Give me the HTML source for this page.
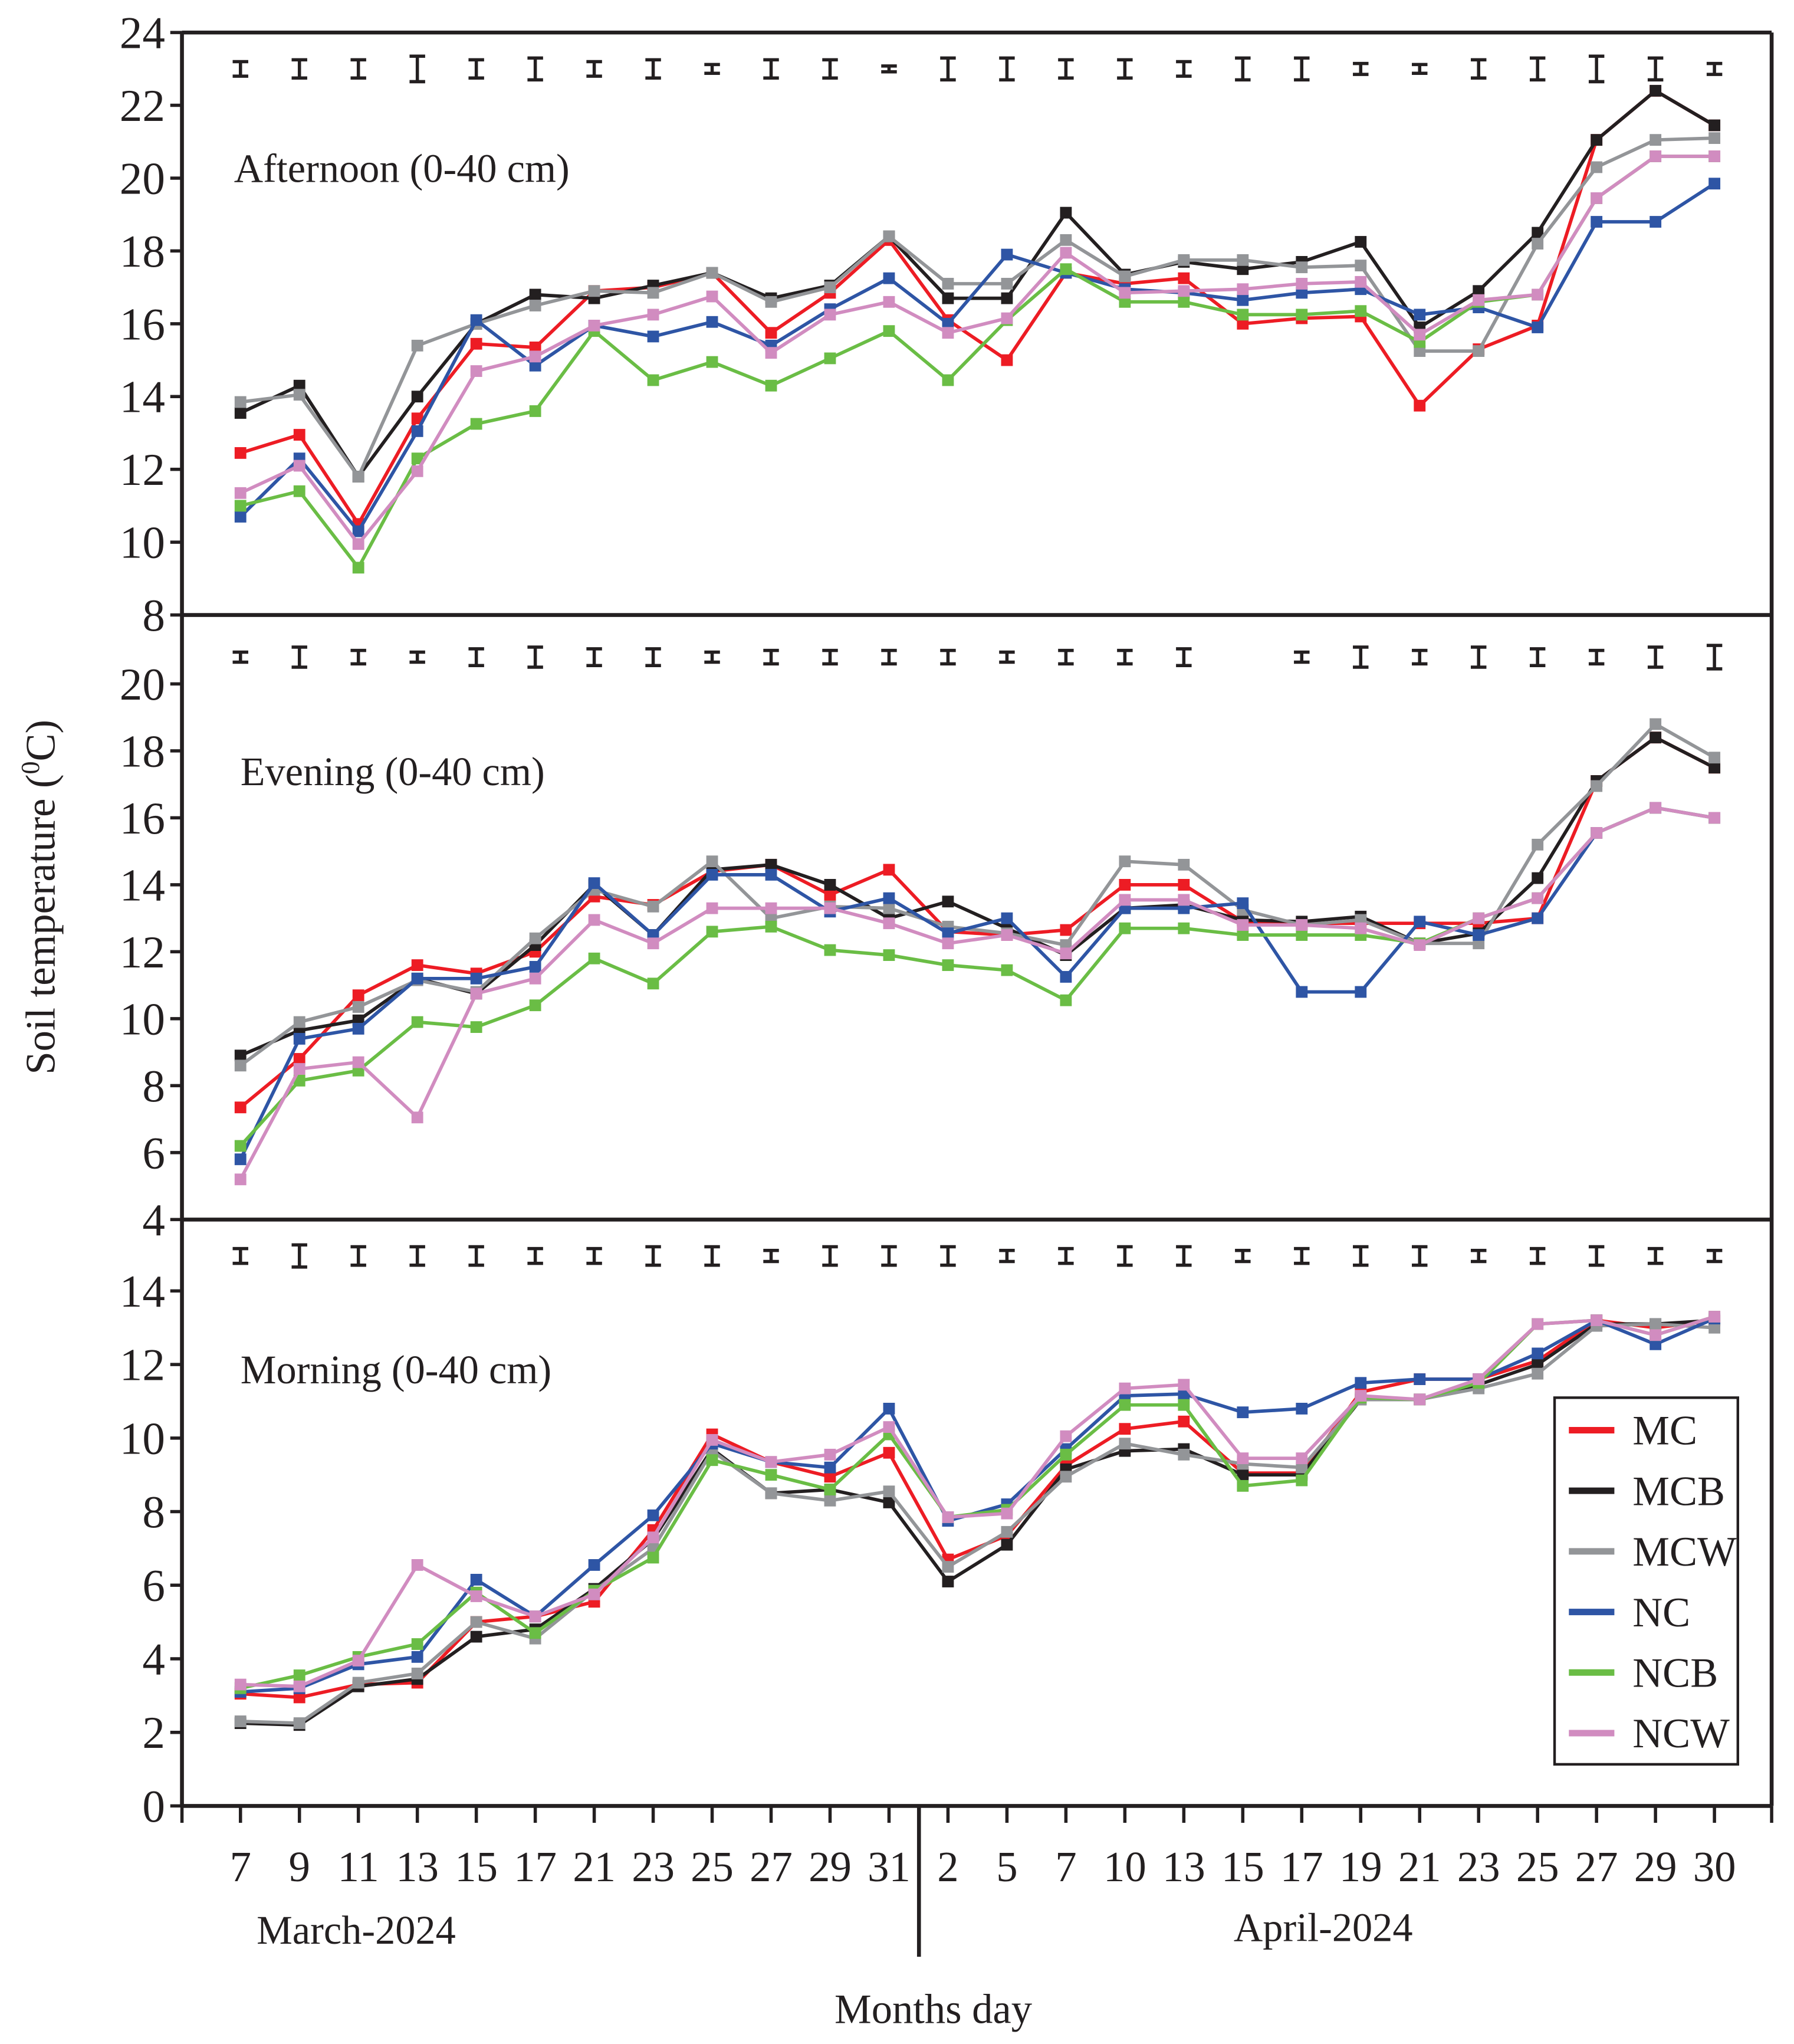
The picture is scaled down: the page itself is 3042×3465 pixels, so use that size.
<!DOCTYPE html>
<html><head><meta charset="utf-8"><style>
html,body{margin:0;padding:0;background:#fff}
svg{display:block}
text{font-family:"Liberation Serif","Times New Roman",serif;fill:#231f20}
</style></head><body>
<svg id="chart" width="3042" height="3465" viewBox="0 0 1380.2 1572.1" xmlns="http://www.w3.org/2000/svg">
<g id="frame"></g>
<g id="marks"></g>
<text x="180" y="140" font-size="31">Afternoon (0-40 cm)</text>
<text x="185" y="604" font-size="31">Evening (0-40 cm)</text>
<text x="185" y="1064" font-size="31">Morning (0-40 cm)</text>
<text transform="translate(42,690) rotate(-90)" text-anchor="middle" font-size="32">Soil temperature (<tspan font-size="20" dy="-12">0</tspan><tspan dy="12">C)</tspan></text>
<text x="274" y="1495" text-anchor="middle" font-size="31">March-2024</text>
<text x="1018" y="1493" text-anchor="middle" font-size="31">April-2024</text>
<text x="718" y="1556" text-anchor="middle" font-size="32">Months day</text>
<g id="legend"></g>
</svg>
<script>
const categories=["7","9","11","13","15","17","21","23","25","27","29","31","2","5","7","10","13","15","17","19","21","23","25","27","29","30"];
const seriesNames=["MC","MCB","MCW","NC","NCB","NCW"];
const seriesColors=["#ed1c24","#231f20","#939598","#2e55a5","#6abd45","#d18cc0"];
// Afternoon
const aftMC=[12.45,12.95,10.5,13.4,15.45,15.35,16.9,17.0,17.4,15.75,16.85,18.3,16.1,15.0,17.4,17.1,17.25,16.0,16.15,16.2,13.75,15.3,15.95,21.05,22.4,21.45];
const aftMCB=[13.55,14.3,11.8,14.0,16.0,16.8,16.7,17.05,17.4,16.7,17.05,18.4,16.7,16.7,19.05,17.35,17.7,17.5,17.7,18.25,15.9,16.9,18.5,21.05,22.4,21.45];
const aftMCW=[13.85,14.05,11.8,15.4,16.0,16.5,16.9,16.85,17.4,16.6,17.0,18.4,17.1,17.1,18.3,17.3,17.75,17.75,17.55,17.6,15.25,15.25,18.2,20.3,21.05,21.1];
const aftNC=[10.7,12.3,10.3,13.05,16.1,14.85,15.95,15.65,16.05,15.4,16.4,17.25,16.0,17.9,17.4,16.95,16.85,16.65,16.85,16.95,16.25,16.45,15.9,18.8,18.8,19.85];
const aftNCB=[11.0,11.4,9.3,12.3,13.25,13.6,15.8,14.45,14.95,14.3,15.05,15.8,14.45,16.1,17.5,16.6,16.6,16.25,16.25,16.35,15.5,16.6,16.8,19.45,20.6,20.6];
const aftNCW=[11.35,12.1,9.95,11.95,14.7,15.1,15.95,16.25,16.75,15.2,16.25,16.6,15.75,16.15,17.95,16.85,16.9,16.95,17.1,17.15,15.7,16.65,16.8,19.45,20.6,20.6];
// Evening
const eveMC=[7.35,8.8,10.7,11.6,11.35,12.0,13.65,13.4,14.4,14.6,13.7,14.45,12.6,12.5,12.65,14.0,14.0,12.9,12.85,12.85,12.85,12.85,13.0,17.1,18.4,17.5];
const eveMCB=[8.9,9.65,9.95,11.2,10.75,12.2,14.0,12.5,14.45,14.6,14.0,13.0,13.5,12.7,11.9,13.3,13.4,12.95,12.9,13.05,12.25,12.55,14.2,17.1,18.4,17.5];
const eveMCW=[8.6,9.9,10.35,11.15,10.8,12.4,13.85,13.35,14.7,13.0,13.35,13.3,12.75,12.55,12.2,14.7,14.6,13.25,12.8,12.95,12.25,12.25,15.2,16.95,18.8,17.8];
const eveNC=[5.8,9.4,9.7,11.2,11.2,11.55,14.05,12.5,14.3,14.3,13.2,13.6,12.55,13.0,11.25,13.3,13.3,13.45,10.8,10.8,12.9,12.5,13.0,15.55,16.3,16.0];
const eveNCB=[6.2,8.15,8.45,9.9,9.75,10.4,11.8,11.05,12.6,12.75,12.05,11.9,11.6,11.45,10.55,12.7,12.7,12.5,12.5,12.5,12.25,13.0,13.6,15.55,16.3,16.0];
const eveNCW=[5.2,8.5,8.7,7.05,10.75,11.2,12.95,12.25,13.3,13.3,13.3,12.85,12.25,12.5,11.95,13.55,13.55,12.8,12.8,12.7,12.2,13.0,13.6,15.55,16.3,16.0];
// Morning
const morMC=[3.05,2.95,3.3,3.35,5.0,5.15,5.55,7.5,10.1,9.35,8.95,9.6,6.7,7.35,9.25,10.25,10.45,9.05,9.05,11.25,11.6,11.6,12.1,13.2,13.0,13.2];
const morMCB=[2.25,2.2,3.25,3.45,4.6,4.8,5.9,7.25,9.7,8.5,8.6,8.25,6.1,7.1,9.15,9.65,9.7,9.0,9.0,11.05,11.05,11.45,12.0,13.1,13.1,13.2];
const morMCW=[2.3,2.25,3.35,3.6,5.0,4.55,5.85,7.0,9.65,8.5,8.3,8.55,6.5,7.45,8.95,9.85,9.55,9.3,9.2,11.05,11.05,11.35,11.75,13.05,13.1,13.0];
const morNC=[3.1,3.2,3.85,4.05,6.15,5.15,6.55,7.9,9.85,9.35,9.2,10.8,7.75,8.2,9.7,11.15,11.2,10.7,10.8,11.5,11.6,11.6,12.3,13.2,12.55,13.25];
const morNCB=[3.2,3.55,4.05,4.4,5.8,4.7,5.85,6.75,9.4,9.0,8.6,10.1,7.85,8.05,9.55,10.9,10.9,8.7,8.85,11.1,11.05,11.5,13.1,13.2,12.8,13.3];
const morNCW=[3.3,3.25,3.95,6.55,5.7,5.15,5.75,7.3,9.95,9.35,9.55,10.3,7.85,7.95,10.05,11.35,11.45,9.45,9.45,11.15,11.05,11.6,13.1,13.2,12.8,13.3];
// Error bars: centre value and half-width (temperature units); null = absent
const aftErrCenter=23.0;
const aftErrHalf=[0.2,0.25,0.25,0.35,0.25,0.3,0.2,0.25,0.12,0.25,0.25,0.08,0.3,0.3,0.25,0.25,0.2,0.3,0.3,0.15,0.12,0.25,0.3,0.35,0.3,0.15];
const eveErrCenter=20.8;
const eveErrHalf=[0.15,0.3,0.2,0.15,0.25,0.3,0.25,0.25,0.15,0.2,0.2,0.2,0.2,0.15,0.2,0.2,0.25,null,0.15,0.3,0.2,0.3,0.25,0.2,0.3,0.35];
const morErrCenter=14.95;
const morErrHalf=[0.2,0.3,0.25,0.25,0.25,0.2,0.2,0.25,0.25,0.15,0.25,0.25,0.25,0.15,0.2,0.25,0.25,0.15,0.2,0.25,0.25,0.15,0.2,0.25,0.2,0.15];
const aftTicks=[8,10,12,14,16,18,20,22,24];
const eveTicks=[4,6,8,10,12,14,16,18,20];
const morTicks=[0,2,4,6,8,10,12,14];

const NS="http://www.w3.org/2000/svg";
const X0=140,X1=1363;
const panels=[
 {name:"afternoon",top:25,bottom:473,min:8,max:24,ticks:aftTicks,series:[aftMC,aftMCB,aftMCW,aftNC,aftNCB,aftNCW],errC:aftErrCenter,errH:aftErrHalf},
 {name:"evening",top:473,bottom:938,min:4,max:22.06,ticks:eveTicks,series:[eveMC,eveMCB,eveMCW,eveNC,eveNCB,eveNCW],errC:eveErrCenter,errH:eveErrHalf},
 {name:"morning",top:938,bottom:1389,min:0,max:15.94,ticks:morTicks,series:[morMC,morMCB,morMCW,morNC,morNCB,morNCW],errC:morErrCenter,errH:morErrHalf}
];
function xScale(i){return 185+i*(1319-185)/(categories.length-1);}
function mk(tag,attrs,parent){const e=document.createElementNS(NS,tag);for(const k in attrs)e.setAttribute(k,attrs[k]);parent.appendChild(e);return e;}
const frame=document.getElementById("frame"),marks=document.getElementById("marks"),legend=document.getElementById("legend");
const ln="#231f20";
panels.forEach(p=>{
 const y=v=>p.bottom-(v-p.min)*(p.bottom-p.top)/(p.max-p.min);
 p.ticks.forEach(t=>{
  const yy=y(t);
  const tk=mk("line",{x1:X0-9,x2:X0,y1:yy,y2:yy,stroke:ln,"stroke-width":2.5},frame);
  
  
  const tx=mk("text",{x:X0-13,y:yy+12,"text-anchor":"end","font-size":35},frame);
  tx.textContent=t;
  
  
 });
 p.errH.forEach((h,i)=>{
  if(i>=categories.length)return;
  if(h===null)return;
  const cx=xScale(i),y1=y(p.errC+h),y2=y(p.errC-h);
  const g=mk("g",{stroke:ln,"stroke-width":2.5},marks);
  
  
  mk("line",{x1:cx,x2:cx,y1:y1,y2:y2},g);
  mk("line",{x1:cx-6,x2:cx+6,y1:y1,y2:y1},g);
  mk("line",{x1:cx-6,x2:cx+6,y1:y2,y2:y2},g);
 });
 p.series.forEach((vals,s)=>{
  const pts=vals.map((v,i)=>xScale(i)+","+y(v)).join(" ");
  const pl=mk("polyline",{points:pts,fill:"none",stroke:seriesColors[s],"stroke-width":2.6},marks);
  
  
  vals.forEach((v,i)=>{
   const r=mk("rect",{x:xScale(i)-4.5,y:y(v)-4.5,width:9,height:9,fill:seriesColors[s]},marks);
   
   
  });
 });
});
[[X0,25,X1,25],[X0,473,X1,473],[X0,938,X1,938],[X0,1389,X1,1389],[X0,25,X0,1389],[X1,25,X1,1389],[707,1389,707,1505]].forEach(c=>{
 const l=mk("line",{x1:c[0],y1:c[1],x2:c[2],y2:c[3],stroke:ln,"stroke-width":3},frame);
 
 
});
for(let i=0;i<categories.length;i++){
 const t=mk("line",{x1:xScale(i),x2:xScale(i),y1:1389,y2:1402,stroke:ln,"stroke-width":2.5},frame);
 
 
 const tx=mk("text",{x:xScale(i),y:1447,"text-anchor":"middle","font-size":33},frame);
 tx.textContent=categories[i];
 
 
}
[X0,X1].forEach(xx=>{
 const t=mk("line",{x1:xx,x2:xx,y1:1389,y2:1402,stroke:ln,"stroke-width":2.5},frame);
 
 
});
const box=mk("rect",{x:1196,y:1075,width:141,height:282,fill:"#fff",stroke:ln,"stroke-width":2},legend);


seriesNames.forEach((n,s)=>{
 const yy=1100+s*46.6;
 const g=mk("g",{},legend);
 
 
 mk("line",{x1:1207,x2:1242,y1:yy,y2:yy,stroke:seriesColors[s],"stroke-width":5},g);
 const t=mk("text",{x:1256,y:yy+11,"font-size":32},g);
 t.textContent=n;
});
</script>
</body></html>
